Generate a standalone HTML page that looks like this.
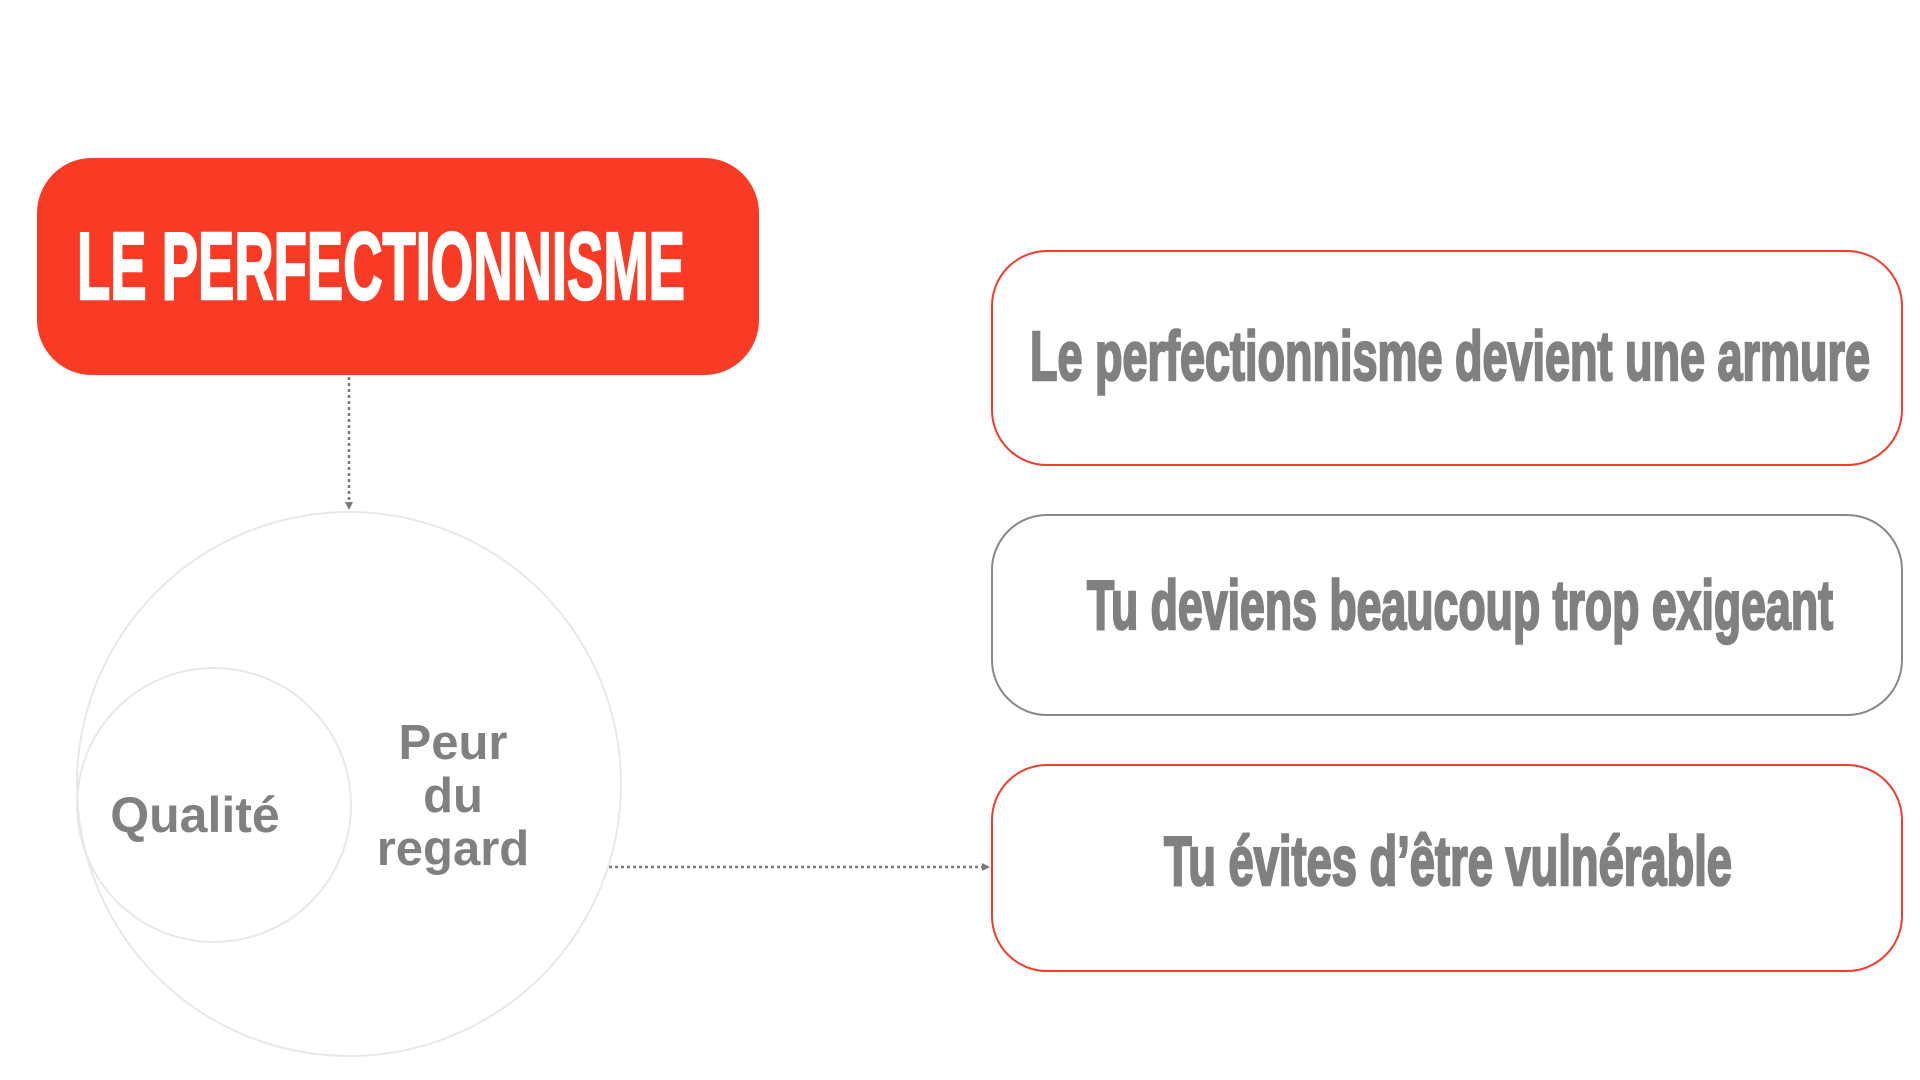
<!DOCTYPE html>
<html><head><meta charset="utf-8"><style>html,body{margin:0;padding:0;background:#fff}svg{display:block}</style></head>
<body>
<svg width="1920" height="1080" viewBox="0 0 1920 1080" xmlns="http://www.w3.org/2000/svg">
<defs>
<marker id="ah" markerWidth="8" markerHeight="8" refX="6" refY="4" orient="auto" markerUnits="userSpaceOnUse"><path d="M0,0 L8,4 L0,8 z" fill="#7a7a7a"/></marker>
</defs>
<rect x="37" y="158" width="722" height="217" rx="55" fill="#f93a25"/>
<text x="77" y="299" font-family="Liberation Sans Narrow, Liberation Sans, sans-serif" font-weight="bold" font-size="96" fill="#fff" stroke="#fff" stroke-width="2.5" textLength="608" lengthAdjust="spacingAndGlyphs">LE PERFECTIONNISME</text>
<line x1="349" y1="377" x2="349" y2="508" stroke="#7a7a7a" stroke-width="2.5" stroke-dasharray="3,3" marker-end="url(#ah)"/>
<circle cx="349" cy="784" r="272" fill="none" stroke="#e8e8e8" stroke-width="2"/>
<circle cx="214" cy="805" r="137" fill="none" stroke="#e8e8e8" stroke-width="2"/>
<g font-family="Liberation Sans, sans-serif" font-weight="bold" fill="#808080" text-anchor="middle">
<text x="195" y="832" font-size="50">Qualité</text>
<text x="453" y="759" font-size="49">Peur</text>
<text x="453" y="812" font-size="49">du</text>
<text x="453" y="865" font-size="49">regard</text>
</g>
<line x1="609" y1="867" x2="988" y2="867" stroke="#7a7a7a" stroke-width="2.5" stroke-dasharray="3,3" marker-end="url(#ah)"/>
<rect x="992" y="251" width="910" height="214" rx="55" fill="none" stroke="#f23c2c" stroke-width="2"/>
<rect x="992" y="515" width="910" height="200" rx="55" fill="none" stroke="#888" stroke-width="2"/>
<rect x="992" y="765" width="910" height="206" rx="55" fill="none" stroke="#f23c2c" stroke-width="2"/>
<g font-family="Liberation Sans Narrow, Liberation Sans, sans-serif" font-weight="bold" fill="#808080" stroke="#808080" stroke-width="2.5" font-size="70">
<text x="1030" y="380" textLength="840" lengthAdjust="spacingAndGlyphs">Le perfectionnisme devient une armure</text>
<text x="1087" y="629" textLength="746" lengthAdjust="spacingAndGlyphs">Tu deviens beaucoup trop exigeant</text>
<text x="1164" y="885" textLength="568" lengthAdjust="spacingAndGlyphs">Tu évites d’être vulnérable</text>
</g>
</svg>
</body></html>
